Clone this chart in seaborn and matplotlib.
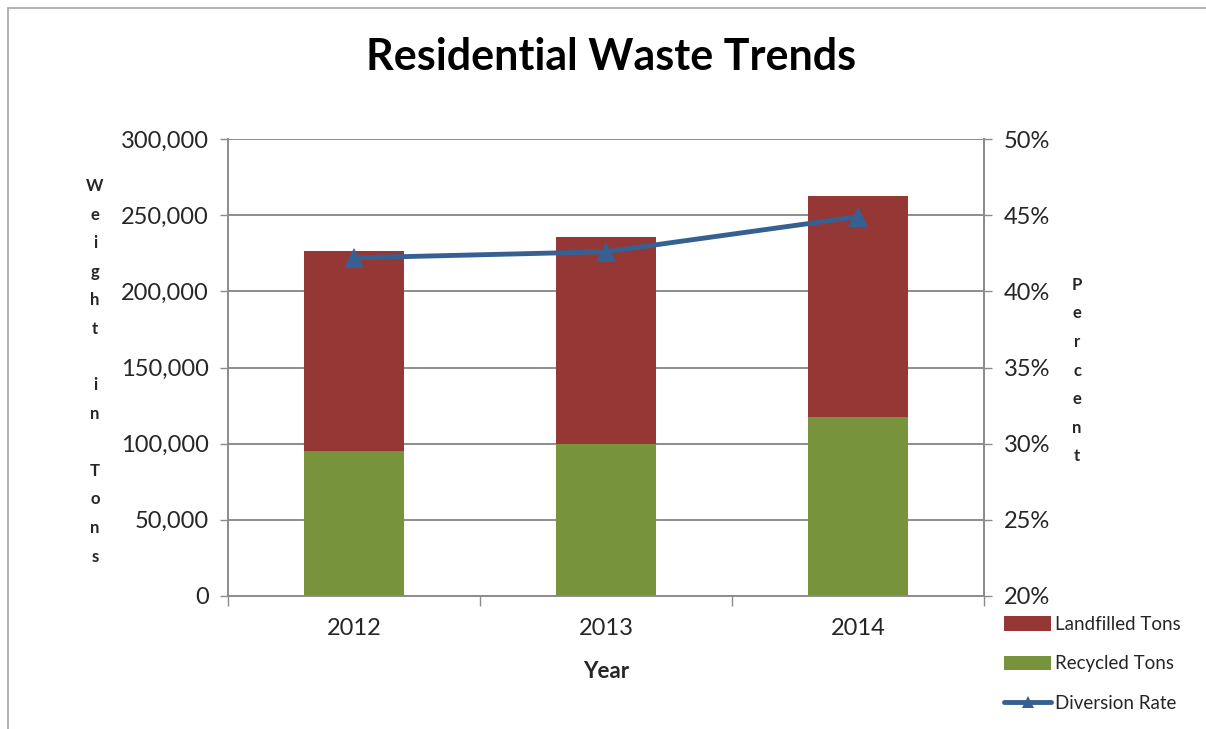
import matplotlib
matplotlib.use("Agg")
import matplotlib.pyplot as plt
import seaborn as sns
import pandas as pd
from matplotlib.patches import Patch, Rectangle
from matplotlib.lines import Line2D
from matplotlib.ticker import FuncFormatter, FixedLocator

# Data
years = ["2012", "2013", "2014"]
recycled_tons = [95200, 100000, 117300]
landfilled_tons = [131300, 135700, 145200]
diversion_rate = [42.2, 42.6, 44.9]

RED = "#953735"
GREEN = "#77933C"
BLUE = "#376092"
GRID = "#8C8C8C"

sns.set_theme(style="white")
plt.rcParams["font.family"] = ["Lato", "DejaVu Sans"]

totals = [r + l for r, l in zip(recycled_tons, landfilled_tons)]
df = pd.DataFrame({"Year": years, "Recycled": recycled_tons, "Total": totals,
                   "Rate": diversion_rate, "pos": range(len(years))})

fig = plt.figure(figsize=(12.06, 7.29), dpi=100)
ax = fig.add_axes([228 / 1206, 1 - 596 / 729, (984 - 228) / 1206, (596 - 139) / 729])

# Stacked bars: total (landfilled on top) then recycled at the base
sns.barplot(data=df, x="Year", y="Total", color=RED, width=0.4, ax=ax,
            saturation=1, linewidth=0, zorder=2)
sns.barplot(data=df, x="Year", y="Recycled", color=GREEN, width=0.4, ax=ax,
            saturation=1, linewidth=0, zorder=2)

ax.set_ylim(0, 300000)
ax.set_xlim(-0.5, 2.5)
ax.yaxis.set_major_locator(FixedLocator(range(0, 300001, 50000)))
ax.yaxis.set_major_formatter(FuncFormatter(lambda v, p: f"{int(v):,}"))
ax.grid(axis="y", color=GRID, linewidth=1.4, zorder=0)
ax.set_axisbelow(True)
ax.set_xlabel("")
ax.set_ylabel("")
ax.tick_params(axis="y", which="major", length=6, width=1, color=GRID,
               labelsize=17, pad=8, left=True)
ax.tick_params(axis="x", which="major", length=0, labelsize=17, pad=16)
ax.set_xticks(range(len(years)))
ax.set_xticklabels(years)
ax.set_xticks([-0.5, 0.5, 1.5, 2.5], minor=True)
ax.tick_params(axis="x", which="minor", length=7, width=1, color=GRID, bottom=True)
for side in ["left", "bottom", "right"]:
    ax.spines[side].set_visible(True)
    ax.spines[side].set_color(GRID)
    ax.spines[side].set_linewidth(1.4)
ax.spines["top"].set_visible(False)

# Secondary axis for diversion rate
ax2 = ax.twinx()
sns.lineplot(data=df, x="pos", y="Rate", color=BLUE, linewidth=3.5, marker="^",
             markersize=15, markeredgewidth=0, ax=ax2, zorder=5)
ax2.set_ylim(20, 50)
ax2.set_xlim(-0.5, 2.5)
ax2.yaxis.set_major_locator(FixedLocator(range(20, 51, 5)))
ax2.yaxis.set_major_formatter(FuncFormatter(lambda v, p: f"{int(v)}%"))
ax2.set_ylabel("")
ax2.set_xlabel("")
ax2.tick_params(axis="y", length=6, width=1, color=GRID, labelsize=17, pad=8, right=True)
for side in ["left", "bottom", "right", "top"]:
    ax2.spines[side].set_visible(False)
ax2.spines["right"].set_visible(True)
ax2.spines["right"].set_color(GRID)
ax2.spines["right"].set_linewidth(1.4)

# Title and axis titles
fig.text(611 / 1206, 1 - 57 / 729, "Residential Waste Trends", ha="center", va="center",
         fontsize=31, fontweight="bold", color="black")
fig.text(606 / 1206, 1 - 671 / 729, "Year", ha="center", va="center",
         fontsize=16, fontweight="bold")

def stacked(ax_fig, x, y_top, word, step):
    for i, ch in enumerate(word):
        if ch == " ":
            continue
        ax_fig.text(x / 1206, 1 - (y_top + i * step) / 729, ch, ha="center",
                    va="center", fontsize=12, fontweight="bold")

stacked(fig, 95, 186, "Weight in Tons", 28.5)
stacked(fig, 1077, 285, "Percent", 28.5)

# Legend to the lower right
handles = [Patch(facecolor=RED, edgecolor="none", label="Landfilled Tons"),
           Patch(facecolor=GREEN, edgecolor="none", label="Recycled Tons"),
           Line2D([0], [0], color=BLUE, linewidth=3.5, marker="^", markersize=9,
                  markeredgewidth=0, label="Diversion Rate")]
fig.legend(handles=handles, loc="center left",
           bbox_to_anchor=(995 / 1206, 1 - 664 / 729), frameon=False, fontsize=13.5,
           handlelength=2.5, handleheight=0.8, labelspacing=1.2, handletextpad=0.2,
           borderpad=0)

# Chart area border
fig.patches.append(Rectangle((8 / 1206, -0.01), 1.2, 1 - 8 / 729 + 0.01,
                             transform=fig.transFigure, fill=False,
                             edgecolor="#A6A6A6", linewidth=1.2))

fig.savefig("out.png", dpi=100, facecolor="white")
